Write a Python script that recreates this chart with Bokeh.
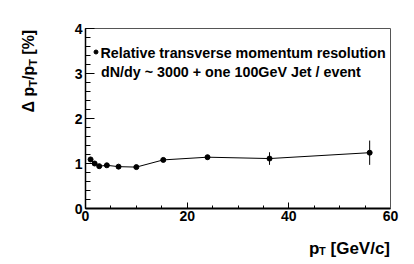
import numpy as np
from bokeh.plotting import figure
from bokeh.models import Range1d, FixedTicker, Label, ColumnDataSource, LinearAxis
from bokeh.embed import file_html
from bokeh.resources import INLINE

# data
pt = [1.0, 1.8, 2.7, 4.2, 6.5, 10.0, 15.3, 24.0, 36.2, 55.9]
res = [1.09, 1.00, 0.94, 0.96, 0.93, 0.92, 1.08, 1.14, 1.11, 1.24]
err = [0.01, 0.01, 0.01, 0.01, 0.01, 0.01, 0.02, 0.05, 0.14, 0.27]

x_major = [0, 20, 40, 60]
y_major = [0, 1, 2, 3, 4]
x_lim = (0, 60)
y_lim = (0, 4)

legend_lines = ["Relative transverse momentum resolution",
                "dN/dy ~ 3000 + one 100GeV Jet / event"]

FONT = "Liberation Sans"

# frame spans the whole canvas; plot box occupies pixels 85..390 x 28..208
W, H = 414, 264
L, R, T, B = 85, 390, 28, 208
sx = (R - L) / (x_lim[1] - x_lim[0])
sy = (B - T) / (y_lim[1] - y_lim[0])
xr = Range1d(x_lim[0] - L / sx, x_lim[1] + (W - R) / sx)
yr = Range1d(y_lim[0] - (H - B) / sy, y_lim[1] + T / sy)

p = figure(width=W, height=H, output_backend="svg", toolbar_location=None,
           x_range=xr, y_range=yr, x_axis_location=None, y_axis_location=None,
           title=None, min_border=0)
p.background_fill_color = "white"
p.border_fill_color = "white"
p.grid.visible = False
p.outline_line_color = None


def style_axis(ax):
    ax.major_tick_out = 0
    ax.minor_tick_out = 0
    ax.axis_line_color = "black"
    ax.major_tick_line_color = "black"
    ax.minor_tick_line_color = "black"
    ax.major_label_text_font = FONT
    ax.major_label_text_font_style = "bold"
    ax.major_label_text_font_size = "14px"
    ax.major_label_text_color = "black"


xa = LinearAxis(fixed_location=y_lim[0], bounds=x_lim,
                ticker=FixedTicker(ticks=x_major, minor_ticks=list(np.arange(0, 61, 5))))
style_axis(xa)
xa.major_tick_in = 6
xa.minor_tick_in = 3
xa.axis_line_width = 2
xa.major_label_standoff = 2
p.add_layout(xa, "below")

ya = LinearAxis(fixed_location=x_lim[0], bounds=y_lim,
                ticker=FixedTicker(ticks=y_major,
                                   minor_ticks=list(np.round(np.arange(0, 4.01, 0.2), 2))))
style_axis(ya)
ya.major_tick_in = 9
ya.minor_tick_in = 5
ya.axis_line_width = 1.5
ya.major_label_standoff = 3
p.add_layout(ya, "left")

# top and right frame lines
for loc, bnds, side in ((y_lim[1], x_lim, "above"), (x_lim[1], y_lim, "right")):
    ax = LinearAxis(fixed_location=loc, bounds=bnds, ticker=FixedTicker(ticks=[]))
    ax.axis_line_color = "#555555"
    ax.axis_line_width = 1
    ax.major_tick_in = 0
    ax.major_tick_out = 0
    ax.minor_tick_in = 0
    ax.minor_tick_out = 0
    ax.major_label_text_font_size = "0px"
    p.add_layout(ax, side)

src = ColumnDataSource(dict(x=pt, y=res,
                            lo=[r - e for r, e in zip(res, err)],
                            hi=[r + e for r, e in zip(res, err)]))
p.line("x", "y", source=src, line_color="black", line_width=1)
p.segment(x0="x", y0="lo", x1="x", y1="hi", source=src, line_color="black", line_width=1)
p.scatter("x", "y", source=src, size=5, color="black")


def px_x(px):
    return x_lim[0] + (px - L) / sx


def px_y(py):
    return y_lim[0] + (B - py) / sy


SHIFT = 4  # empirical baseline correction (pixels)


def lab(x, y, t, size, angle=0.0):
    if angle:
        x = x - SHIFT
    else:
        y = y - SHIFT
    p.add_layout(Label(x=px_x(x), y=px_y(y), text=t, text_font=FONT, text_font_style="bold",
                       text_font_size=size, text_baseline="alphabetic", text_color="black",
                       text_align="left", angle=angle))


# legend
p.scatter([px_x(95.5)], [px_y(51.5)], size=4, color="black")
lab(100, 56, legend_lines[0], "14.3px")
lab(100.5, 75.5, legend_lines[1], "14.3px")

# x axis title
lab(308.5, 252, "p", "17px")
lab(318.5, 254, "T", "11px")
lab(330, 252, "[GeV/c]", "17px")

# y axis title (rotated)
a = np.pi / 2
lab(32, 112, "\u0394 p", "16px", a)
lab(36, 86.2, "T", "11px", a)
lab(32, 79.5, "/p", "16px", a)
lab(36, 65.3, "T", "11px", a)
lab(32, 54.2, "[%]", "16px", a)

open("out.html", "w").write(file_html(p, INLINE))
